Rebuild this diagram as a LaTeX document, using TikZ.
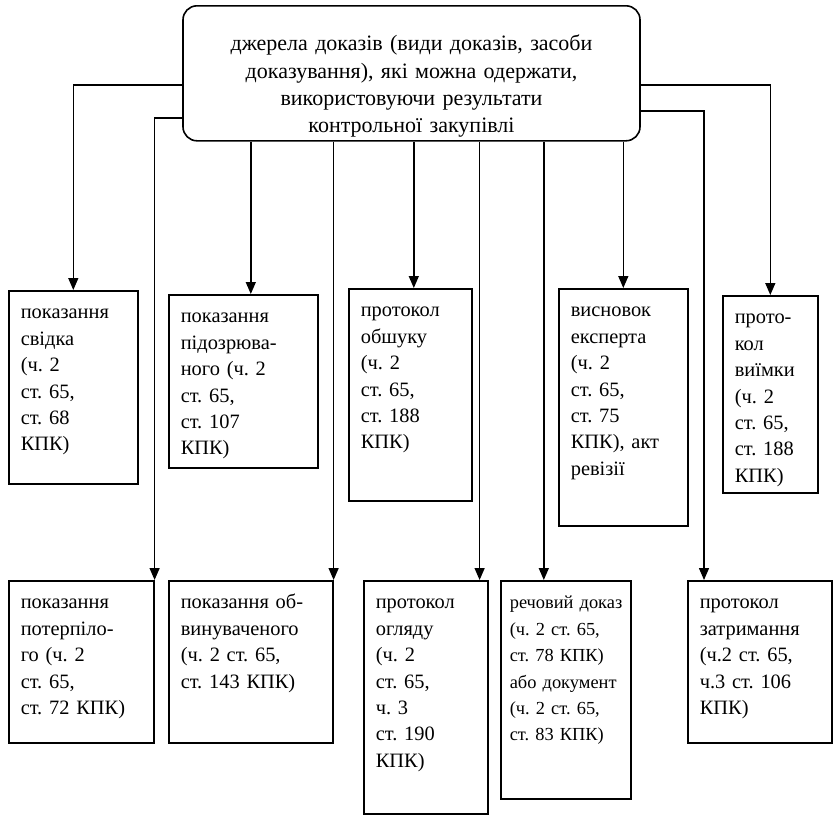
\documentclass[tikz,border=0pt]{standalone}
\usepackage{fontspec}
\setmainfont{Liberation Serif}
\frenchspacing
\usetikzlibrary{arrows.meta}

\begin{document}
\begin{tikzpicture}[
x=0.5pt, y=-0.5pt,
source/.style={
rectangle, rounded corners=7pt,
draw, line width=0.8pt, align=center,
font=\fontsize{11pt}{13.6pt}\selectfont,
text width=220.5pt, inner xsep=4pt, inner ysep=2pt,
text height=20.5pt, text depth=43pt
},
item/.style={
rectangle,
draw, line width=0.8pt,
anchor=north west, align=left,
font=\fontsize{10.2pt}{13.2pt}\selectfont,
inner xsep=0pt, inner ysep=2pt,
text height=12pt,
execute at begin node={\leftskip=6pt\relax}
},
arrow/.style={-{Triangle[width=5pt,length=6pt]}, line width=0.7pt}
]
\useasboundingbox (0,0) rectangle (833,815);

\node[source, anchor=north] (src) at (411.5,5)
{джерела доказів (види доказів, засоби\\доказування), які можна одержати,\\використовуючи результати\\контрольної закупівлі};

% upper row
\node[item, text width=64.5pt, text depth=80.5pt] (svidka) at (8,290)
{показання\\свідка\\(ч. 2\\ст. 65,\\ст. 68\\КПК)};

\node[item, text width=74.5pt, text depth=70.5pt] (pidozr) at (168,294)
{показання\\підозрюва-\\ного (ч. 2\\ст. 65,\\ст. 107\\КПК)};

\node[item, text width=61.5pt, text depth=90pt] (obshuk) at (348,288)
{протокол\\обшуку\\(ч. 2\\ст. 65,\\ст. 188\\КПК)};

\node[item, text width=64.5pt, text depth=102.5pt] (vysnovok) at (558,288)
{висновок\\експерта\\(ч. 2\\ст. 65,\\ст. 75\\КПК), акт\\ревізії};

\node[item, text width=47.5pt, text depth=82.5pt] (viimka) at (722,295)
{прото-\\кол\\виїмки\\(ч. 2\\ст. 65,\\ст. 188\\КПК)};

% lower row
\node[item, text width=72.5pt, text depth=65pt] (poterp) at (8,580)
{показання\\потерпіло-\\го (ч. 2\\ст. 65,\\ст. 72 КПК)};

\node[item, text width=82pt, text depth=65pt] (obvyn) at (168,580)
{показання об-\\винуваченого\\(ч. 2 ст. 65,\\ст. 143 КПК)};

\node[item, text width=62pt, text depth=100.5pt] (ohliad) at (363,580)
{протокол\\огляду\\(ч. 2\\ст. 65,\\ч. 3\\ст. 190\\КПК)};

\node[item, text width=65pt, text depth=93pt, font=\fontsize{9.2pt}{13.2pt}\selectfont,
execute at begin node={\leftskip=4.5pt\relax}] (rechovyi) at (500,580)
{речовий~доказ\\(ч.~2 ст.~65,\\ст.~78 КПК)\\або~документ\\(ч.~2 ст.~65,\\ст.~83 КПК)};

\node[item, text width=72pt, text depth=65pt] (zatrym) at (687,580)
{протокол\\затримання\\(ч.2 ст. 65,\\ч.3 ст. 106\\КПК)};

% entry points of the arrows
\coordinate (pidozr-in) at ([xshift=3.75pt]pidozr.north);
\coordinate (obshuk-in) at ([xshift=1.75pt]obshuk.north);
\coordinate (ohliad-in) at ([xshift=-4.5pt]ohliad.north east);
\coordinate (rechovyi-in) at ([xshift=-11pt]rechovyi.north);
\coordinate (zatrym-in) at ([xshift=8.5pt]zatrym.north west);

\draw[arrow] ([yshift=-5.75pt]src.west) -| (svidka.north);
\draw[arrow] ([yshift=-22.25pt]src.west) -| (poterp.north east);
\draw[arrow] ([yshift=-5.75pt]src.east) -| (viimka.north);
\draw[arrow] ([yshift=-18.75pt]src.east) -| (zatrym-in);

\foreach \t in {pidozr-in, obvyn.north east, obshuk-in, ohliad-in, rechovyi-in, vysnovok.north}
\draw[arrow] (src.south -| \t) -- (\t);

\end{tikzpicture}
\end{document}
